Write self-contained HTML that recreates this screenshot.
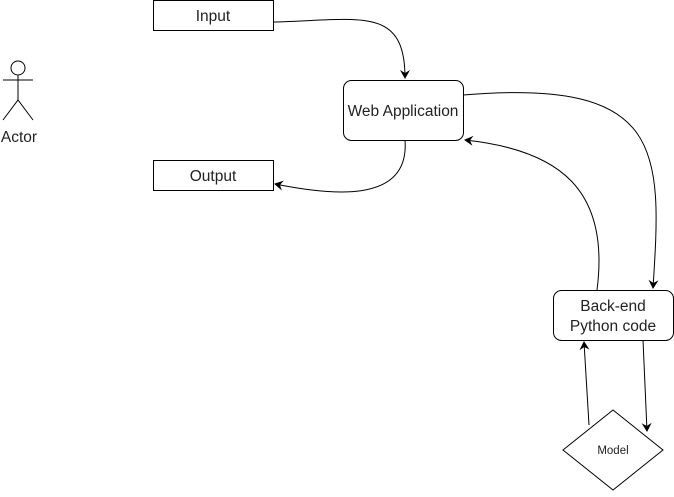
<!DOCTYPE html>
<html><head><style>body{margin:0;background:#fff}</style></head><body>
<svg width="674" height="492" xmlns="http://www.w3.org/2000/svg" font-family="Liberation Sans, sans-serif">
<defs><marker id="a" markerWidth="10" markerHeight="10" refX="8" refY="5" orient="auto" markerUnits="userSpaceOnUse"><path d="M0,0 L9,5 L0,10 L3,5 z" fill="#000"/></marker></defs>
<g fill="none" stroke="#000" stroke-width="1">
<circle cx="18" cy="68" r="7"/>
<line x1="18" y1="75" x2="18" y2="100"/>
<line x1="3" y1="80" x2="33" y2="80"/>
<path d="M3,120 L18,100 L33,120"/>
<rect x="153.5" y="0.5" width="120" height="30"/>
<rect x="153.5" y="160.5" width="120" height="30"/>
<rect x="343.5" y="80.5" width="120" height="60" rx="8"/>
<rect x="553.5" y="290.5" width="120" height="50" rx="8"/>
<path d="M613,410 L663,450 L613,490 L563,450 Z"/>
<path d="M273,22 C360,20 405,5 405,78" marker-end="url(#a)"/>
<path d="M405,140 C410,205 330,195 275,184" marker-end="url(#a)"/>
<path d="M463,95 C665,78 662,150 653,288" marker-end="url(#a)"/>
<path d="M597,290 C610,190 560,150 465,140" marker-end="url(#a)"/>
<path d="M643,340 L647,431" marker-end="url(#a)"/>
<path d="M589,425 L584,342" marker-end="url(#a)"/>
</g>
<g font-size="15.5" fill="#222" text-anchor="middle">
<text x="213" y="21">Input</text>
<text x="213" y="181">Output</text>
<text x="403" y="116">Web Application</text>
<text x="613" y="311">Back-end</text>
<text x="613" y="331">Python code</text>
<text x="19" y="142">Actor</text>
<text x="613" y="454" font-size="11.5">Model</text>
</g>
</svg>
</body></html>
